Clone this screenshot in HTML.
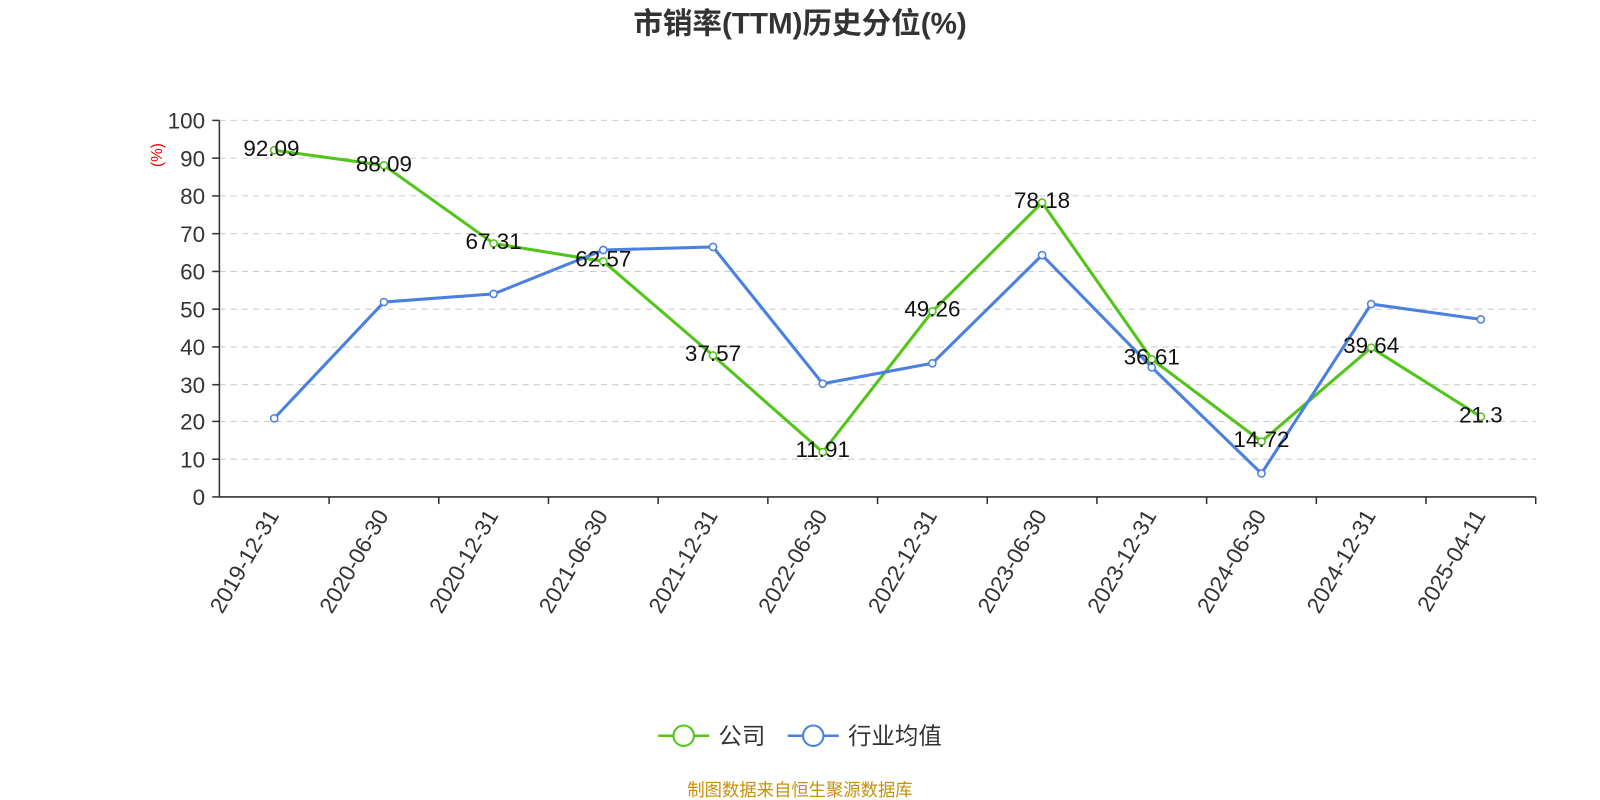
<!DOCTYPE html>
<html><head><meta charset="utf-8"><style>
html,body{margin:0;padding:0;background:#fff;}
svg text{font-family:"Liberation Sans","Noto Sans CJK SC",sans-serif;}
</style></head><body>
<svg width="1600" height="800" viewBox="0 0 1568 784" xmlns="http://www.w3.org/2000/svg" style="display:block">
<rect width="1568" height="784" fill="#fff"/>
<text x="784" y="33" text-anchor="middle" font-size="29" font-weight="bold" fill="#333">市销率(TTM)历史分位(%)</text>
<g stroke="#ccc" stroke-dasharray="6,5" stroke-width="1">
<line x1="215" x2="1505" y1="118" y2="118"/><line x1="215" x2="1505" y1="155" y2="155"/>
<line x1="215" x2="1505" y1="192" y2="192"/><line x1="215" x2="1505" y1="229" y2="229"/>
<line x1="215" x2="1505" y1="266" y2="266"/><line x1="215" x2="1505" y1="303" y2="303"/>
<line x1="215" x2="1505" y1="340" y2="340"/><line x1="215" x2="1505" y1="377" y2="377"/>
<line x1="215" x2="1505" y1="413" y2="413"/><line x1="215" x2="1505" y1="450" y2="450"/>
</g>
<g stroke="#333" stroke-width="1.5">
<line x1="215" x2="215" y1="118" y2="487"/><line x1="215" x2="1505" y1="487" y2="487"/>
<line x1="208" x2="215" y1="118" y2="118"/><line x1="208" x2="215" y1="155" y2="155"/><line x1="208" x2="215" y1="192" y2="192"/><line x1="208" x2="215" y1="229" y2="229"/><line x1="208" x2="215" y1="266" y2="266"/><line x1="208" x2="215" y1="303" y2="303"/><line x1="208" x2="215" y1="340" y2="340"/><line x1="208" x2="215" y1="377" y2="377"/><line x1="208" x2="215" y1="413" y2="413"/><line x1="208" x2="215" y1="450" y2="450"/><line x1="208" x2="215" y1="487" y2="487"/>
<line x1="322.5" x2="322.5" y1="487" y2="494"/><line x1="430" x2="430" y1="487" y2="494"/><line x1="537.5" x2="537.5" y1="487" y2="494"/><line x1="645" x2="645" y1="487" y2="494"/><line x1="752.5" x2="752.5" y1="487" y2="494"/><line x1="860" x2="860" y1="487" y2="494"/><line x1="967.5" x2="967.5" y1="487" y2="494"/><line x1="1075" x2="1075" y1="487" y2="494"/><line x1="1182.5" x2="1182.5" y1="487" y2="494"/><line x1="1290" x2="1290" y1="487" y2="494"/><line x1="1397.5" x2="1397.5" y1="487" y2="494"/><line x1="1505" x2="1505" y1="487" y2="494"/>
</g>
<g font-size="22" fill="#333" text-anchor="end">
<text x="201" y="126">100</text><text x="201" y="163">90</text><text x="201" y="200">80</text><text x="201" y="237">70</text><text x="201" y="274">60</text><text x="201" y="311">50</text><text x="201" y="348">40</text><text x="201" y="385">30</text><text x="201" y="421">20</text><text x="201" y="458">10</text><text x="201" y="495">0</text>
</g>
<text x="159" y="152" font-size="15" fill="#e00" transform="rotate(-90 159 152)" text-anchor="middle">(%)</text>
<g font-size="22" fill="#333" text-anchor="end">
<text transform="translate(274,505) rotate(-60)">2019-12-31</text>
<text transform="translate(381.5,505) rotate(-60)">2020-06-30</text>
<text transform="translate(489,505) rotate(-60)">2020-12-31</text>
<text transform="translate(596.5,505) rotate(-60)">2021-06-30</text>
<text transform="translate(704,505) rotate(-60)">2021-12-31</text>
<text transform="translate(811.5,505) rotate(-60)">2022-06-30</text>
<text transform="translate(919,505) rotate(-60)">2022-12-31</text>
<text transform="translate(1026.5,505) rotate(-60)">2023-06-30</text>
<text transform="translate(1134,505) rotate(-60)">2023-12-31</text>
<text transform="translate(1241.5,505) rotate(-60)">2024-06-30</text>
<text transform="translate(1349,505) rotate(-60)">2024-12-31</text>
<text transform="translate(1456.5,505) rotate(-60)">2025-04-11</text>
</g>
<polyline fill="none" stroke="#52c41a" stroke-width="3" points="268.75,147.2 376.25,162 483.75,238.6 591.25,256.1 698.75,348.4 806.25,443.1 913.75,305.2 1021.25,198.5 1128.75,352 1236.25,432.7 1343.75,340.7 1451.25,408.4"/>
<polyline fill="none" stroke="#4a80e0" stroke-width="3" points="268.75,410 376.25,296 483.75,288 591.25,245 698.75,242 806.25,376 913.75,356 1021.25,250 1128.75,360 1236.25,464 1343.75,298 1451.25,313"/>
<g fill="#fff" stroke="#52c41a" stroke-width="1.5">
<circle cx="268.75" cy="147.2" r="3.5"/><circle cx="376.25" cy="162" r="3.5"/><circle cx="483.75" cy="238.6" r="3.5"/><circle cx="591.25" cy="256.1" r="3.5"/><circle cx="698.75" cy="348.4" r="3.5"/><circle cx="806.25" cy="443.1" r="3.5"/><circle cx="913.75" cy="305.2" r="3.5"/><circle cx="1021.25" cy="198.5" r="3.5"/><circle cx="1128.75" cy="352" r="3.5"/><circle cx="1236.25" cy="432.7" r="3.5"/><circle cx="1343.75" cy="340.7" r="3.5"/><circle cx="1451.25" cy="408.4" r="3.5"/>
</g>
<g fill="#fff" stroke="#4a80e0" stroke-width="1.5">
<circle cx="268.75" cy="410" r="3.5"/><circle cx="376.25" cy="296" r="3.5"/><circle cx="483.75" cy="288" r="3.5"/><circle cx="591.25" cy="245" r="3.5"/><circle cx="698.75" cy="242" r="3.5"/><circle cx="806.25" cy="376" r="3.5"/><circle cx="913.75" cy="356" r="3.5"/><circle cx="1021.25" cy="250" r="3.5"/><circle cx="1128.75" cy="360" r="3.5"/><circle cx="1236.25" cy="464" r="3.5"/><circle cx="1343.75" cy="298" r="3.5"/><circle cx="1451.25" cy="313" r="3.5"/>
</g>
<g font-size="22" fill="#111" text-anchor="middle">
<text x="266" y="153">92.09</text><text x="376.25" y="168">88.09</text><text x="483.75" y="244">67.31</text><text x="591.25" y="261">62.57</text><text x="698.75" y="354">37.57</text><text x="806.25" y="448">11.91</text><text x="913.75" y="310">49.26</text><text x="1021.25" y="204">78.18</text><text x="1128.75" y="357">36.61</text><text x="1236.25" y="438">14.72</text><text x="1343.75" y="346">39.64</text><text x="1451.25" y="414">21.3</text>
</g>
<line x1="645" x2="695" y1="721" y2="721" stroke="#52c41a" stroke-width="2.5"/>
<circle cx="670" cy="721" r="10" fill="#fff" stroke="#52c41a" stroke-width="2"/>
<text x="704" y="729" font-size="23" fill="#333">公司</text>
<line x1="772" x2="822" y1="721" y2="721" stroke="#4a80e0" stroke-width="2.5"/>
<circle cx="797" cy="721" r="10" fill="#fff" stroke="#4a80e0" stroke-width="2"/>
<text x="831" y="729" font-size="23" fill="#333">行业均值</text>
<text x="784" y="780" text-anchor="middle" font-size="17" fill="#c8900a">制图数据来自恒生聚源数据库</text>
</svg>
</body></html>
